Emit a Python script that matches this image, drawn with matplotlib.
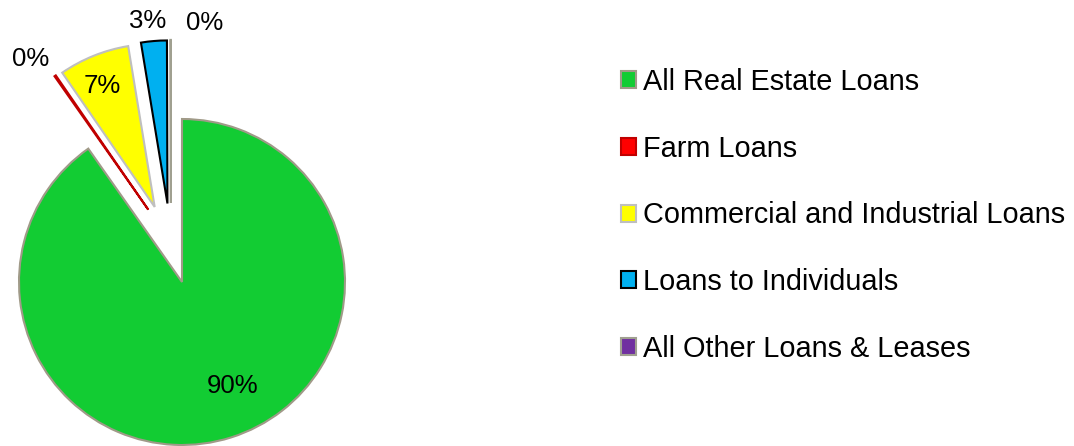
import numpy as np
import matplotlib.pyplot as plt

plt.rcParams['font.family'] = ['Liberation Sans', 'DejaVu Sans']

categories = ['All Real Estate Loans', 'Farm Loans', 'Commercial and Industrial Loans',
              'Loans to Individuals', 'All Other Loans & Leases']
shares = [90.25, 0.15, 7.0, 2.55, 0.05]

colors = ['#12cc33', '#ff0000', '#ffff00', '#00b0f0', '#7030a0']
edges = ['#a09a88', '#c00000', '#bfbfbf', '#000000', '#a0a090']
explode = [0, 0.49, 0.49, 0.49, 0.49]
# direction (degrees) each exploded slice is pulled out, as in the original
explode_dir = [0, 115, 110, 100.5, 98]

# label placements in data units (pie radius = 1)
label_pos = [(0.31, -0.64), (-0.93, 1.37), (-0.49, 1.20), (-0.21, 1.60), (0.14, 1.59)]

W, H = 1074, 446
fig = plt.figure(figsize=(W / 100, H / 100), dpi=100)
cx, cy, r = 182, 282, 163
ax = fig.add_axes([0, 0, 420 / W, 1])

wedges, _ = ax.pie(shares, colors=colors, startangle=90,
                   counterclock=False, radius=1, center=(0, 0), frame=True,
                   wedgeprops=dict(linewidth=1.5))
for w, ec, d, a in zip(wedges, edges, explode, explode_dir):
    w.set_edgecolor(ec)
    if d:
        w.set_center((d * np.cos(np.radians(a)), d * np.sin(np.radians(a))))
ax.set_xlim(-cx / r, (420 - cx) / r)
ax.set_ylim(-(H - cy) / r, cy / r)
ax.axis('off')

total = sum(shares)
for (x, y), v in zip(label_pos, shares):
    ax.text(x, y, f'{v / total * 100:.0f}%', ha='center', va='center', fontsize=18.5)

fig.legend(wedges, categories, loc='upper left', bbox_to_anchor=(621 / W, 1 - 68 / H),
           frameon=False, fontsize=20.8, handlelength=0.52, handleheight=0.52,
           handletextpad=0.25, labelspacing=1.34, borderpad=0, borderaxespad=0)

fig.savefig('out.png', dpi=100)
